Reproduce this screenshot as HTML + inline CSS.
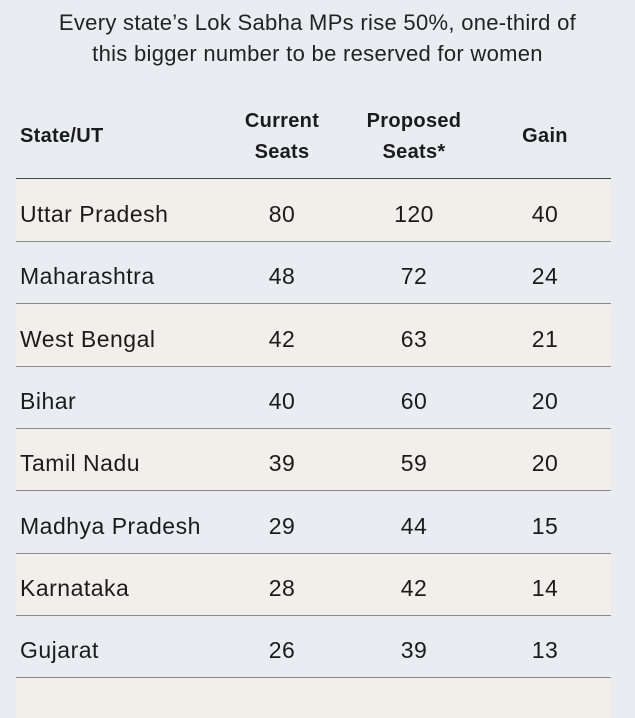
<!DOCTYPE html>
<html><head><style>
body{margin:0;width:635px;height:700px;background:#e9edf1;font-family:"Liberation Sans",sans-serif;color:#1b1b1b;overflow:hidden;position:relative}
.t{position:absolute;left:0;width:635px;text-align:center;font-size:22px;line-height:31px;top:7px;color:#222;letter-spacing:0.3px}
.h{position:absolute;font-weight:bold;font-size:20px;line-height:31px;text-align:center;letter-spacing:0.3px}
.row{position:absolute;left:16px;width:595px;height:62px;border-bottom:1.5px solid #8a8a8a}
.row span{position:absolute;top:3px;line-height:62px;font-size:23px;letter-spacing:0.5px}
.c{width:100px;text-align:center}
</style></head><body>
<div class="t">Every state’s Lok Sabha MPs rise 50%, one-third of<br>this bigger number to be reserved for women</div>
<div class="h" style="left:20px;top:121px;text-align:left">State/UT</div>
<div class="h" style="left:232px;top:106px;width:100px">Current<br>Seats</div>
<div class="h" style="left:354px;top:106px;width:120px">Proposed<br>Seats*</div>
<div class="h" style="left:495px;top:121px;width:100px">Gain</div>
<div style="position:absolute;left:16px;width:595px;top:178px;border-top:1.5px solid #444"></div>
<div id="rows"></div>
<script>
var d=[["Uttar Pradesh",80,120,40],["Maharashtra",48,72,24],["West Bengal",42,63,21],["Bihar",40,60,20],["Tamil Nadu",39,59,20],["Madhya Pradesh",29,44,15],["Karnataka",28,42,14],["Gujarat",26,39,13],["",""," ",""]];
var h="";d.forEach(function(r,i){var top=180+i*62.3;h+='<div class="row" style="top:'+top+'px;height:61px;background:'+(i%2==0?'#f2efea':'#e9edf1')+(i==8?';border:none;height:40px':'')+'"><span style="left:4px">'+r[0]+'</span><span class="c" style="left:216px">'+r[1]+'</span><span class="c" style="left:348px">'+r[2]+'</span><span class="c" style="left:479px">'+r[3]+'</span></div>';});
document.getElementById("rows").innerHTML=h;
</script>
</body></html>
